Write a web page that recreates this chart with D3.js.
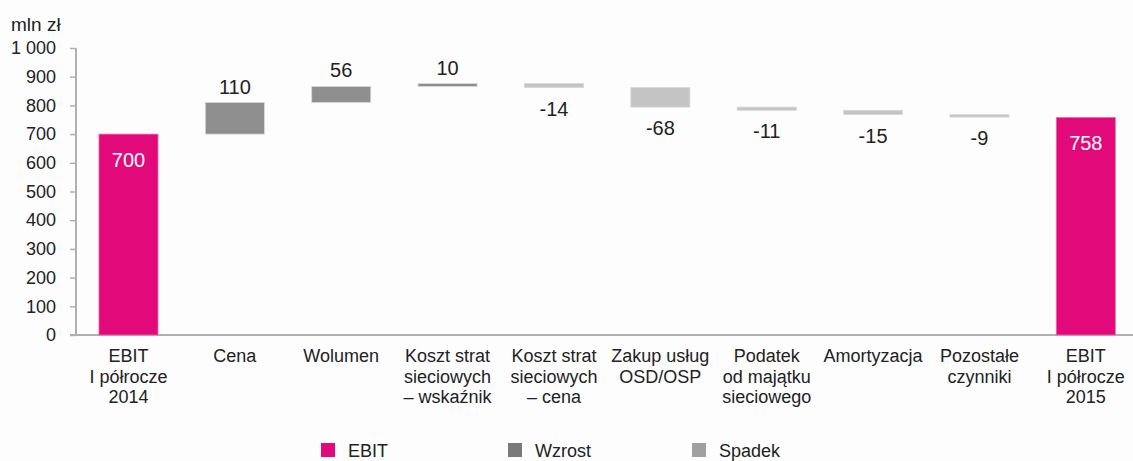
<!DOCTYPE html>
<html>
<head>
<meta charset="utf-8">
<script src="https://cdn.jsdelivr.net/npm/d3@7"></script>
<style>
  body { margin: 0; background: #fdfdfd; }
  svg { font-family: Arial, "Liberation Sans", sans-serif; }
</style>
</head>
<body>
<svg id="chart"></svg>
<script>
var categories = [
  ['EBIT', 'I półrocze', '2014'],
  ['Cena'],
  ['Wolumen'],
  ['Koszt strat', 'sieciowych', '– wskaźnik'],
  ['Koszt strat', 'sieciowych', '– cena'],
  ['Zakup usług', 'OSD/OSP'],
  ['Podatek', 'od majątku', 'sieciowego'],
  ['Amortyzacja'],
  ['Pozostałe', 'czynniki'],
  ['EBIT', 'I półrocze', '2015']
];
var values = [700, 110, 56, 10, -14, -68, -11, -15, -9, 758];
var kinds = ['total', 'delta', 'delta', 'delta', 'delta', 'delta', 'delta', 'delta', 'delta', 'total'];
var yTicks = [0, 100, 200, 300, 400, 500, 600, 700, 800, 900, 1000];
var legendItems = ['EBIT', 'Wzrost', 'Spadek'];

var width = 1133, height = 461;
var colors = { total: '#e2097a', up: '#8f8f8f', down: '#c4c4c4' };
var legendColors = ['#e2097a', '#7a7a7a', '#a0a0a0'];

var svg = d3.select('#chart')
  .attr('width', width)
  .attr('height', height);

// running totals for the waterfall
var steps = [];
var running = 0;
values.forEach(function(v, i) {
  if (kinds[i] === 'total') {
    steps.push({ i: i, y0: 0, y1: v, v: v, type: 'total' });
    running = v;
  } else {
    steps.push({ i: i, y0: running, y1: running + v, v: v, type: v >= 0 ? 'up' : 'down' });
    running += v;
  }
});

var x = d3.scaleBand()
  .domain(d3.range(categories.length))
  .range([75.3, 1139])
  .paddingInner(0.445)
  .paddingOuter(0.2225);

var y = d3.scaleLinear()
  .domain([0, 1000])
  .range([335, 48]);

var locale = d3.formatLocale({ decimal: ',', thousands: ' ', grouping: [3], currency: ['', ' zł'] });
var fmt = locale.format(',d');

// y axis
var yAxis = svg.append('g')
  .attr('transform', 'translate(76,0)')
  .call(d3.axisLeft(y).tickValues(yTicks).tickSize(6).tickPadding(14).tickFormat(fmt));
yAxis.select('.domain').attr('stroke', '#b0b0b0').attr('stroke-width', 2).attr('d', 'M0,48V335');
yAxis.selectAll('.tick line').attr('stroke', '#b0b0b0').attr('stroke-width', 1.5);
yAxis.selectAll('.tick text').attr('fill', '#222').style('font-size', '18px');

// x axis line
svg.append('line')
  .attr('x1', 70).attr('x2', width)
  .attr('y1', y(0)).attr('y2', y(0))
  .attr('stroke', '#b0b0b0').attr('stroke-width', 2);

svg.append('text')
  .attr('x', 11).attr('y', 31)
  .attr('fill', '#222')
  .style('font-size', '19px')
  .text('mln zł');

// bars
svg.selectAll('rect.bar')
  .data(steps)
  .enter().append('rect')
  .attr('class', 'bar')
  .attr('x', function(d) { return x(d.i); })
  .attr('width', x.bandwidth())
  .attr('y', function(d) { return y(Math.max(d.y0, d.y1)); })
  .attr('height', function(d) { return Math.max(2, Math.abs(y(d.y0) - y(d.y1))); })
  .attr('fill', function(d) { return colors[d.type]; })
  .attr('stroke', function(d) { return d.type === 'total' ? '#f06aa8' : '#d8d8d8'; })
  .attr('stroke-width', 0.8);

// value labels
svg.selectAll('text.val')
  .data(steps)
  .enter().append('text')
  .attr('class', 'val')
  .attr('text-anchor', 'middle')
  .attr('dominant-baseline', 'central')
  .style('font-size', '20px')
  .attr('x', function(d) { return x(d.i) + x.bandwidth() / 2; })
  .attr('y', function(d) {
    if (d.type === 'total') return y(d.y1) + 26;
    if (d.type === 'up') return y(d.y1) - 16;
    return y(d.y1) + 21;
  })
  .attr('fill', function(d) { return d.type === 'total' ? '#fff' : '#222'; })
  .text(function(d) { return d.v; });

// category labels
var cat = svg.selectAll('text.cat')
  .data(categories)
  .enter().append('text')
  .attr('class', 'cat')
  .attr('text-anchor', 'middle')
  .attr('fill', '#222')
  .style('font-size', '18px')
  .attr('x', function(d, i) { return x(i) + x.bandwidth() / 2; })
  .attr('y', 362);
cat.selectAll('tspan')
  .data(function(d) { return d; })
  .enter().append('tspan')
  .attr('x', function() { return d3.select(this.parentNode).attr('x'); })
  .attr('dy', function(d, j) { return j === 0 ? 0 : 20.7; })
  .text(function(d) { return d; });

// legend
var legendX = [321, 508, 692];
var legend = svg.selectAll('g.legend')
  .data(legendItems)
  .enter().append('g')
  .attr('class', 'legend')
  .attr('transform', function(d, i) { return 'translate(' + legendX[i] + ',443)'; });
legend.append('rect')
  .attr('width', 14).attr('height', 14)
  .attr('fill', function(d, i) { return legendColors[i]; });
legend.append('text')
  .attr('x', 27).attr('y', 14)
  .attr('fill', '#222')
  .style('font-size', '18px')
  .text(function(d) { return d; });
</script>
</body>
</html>
